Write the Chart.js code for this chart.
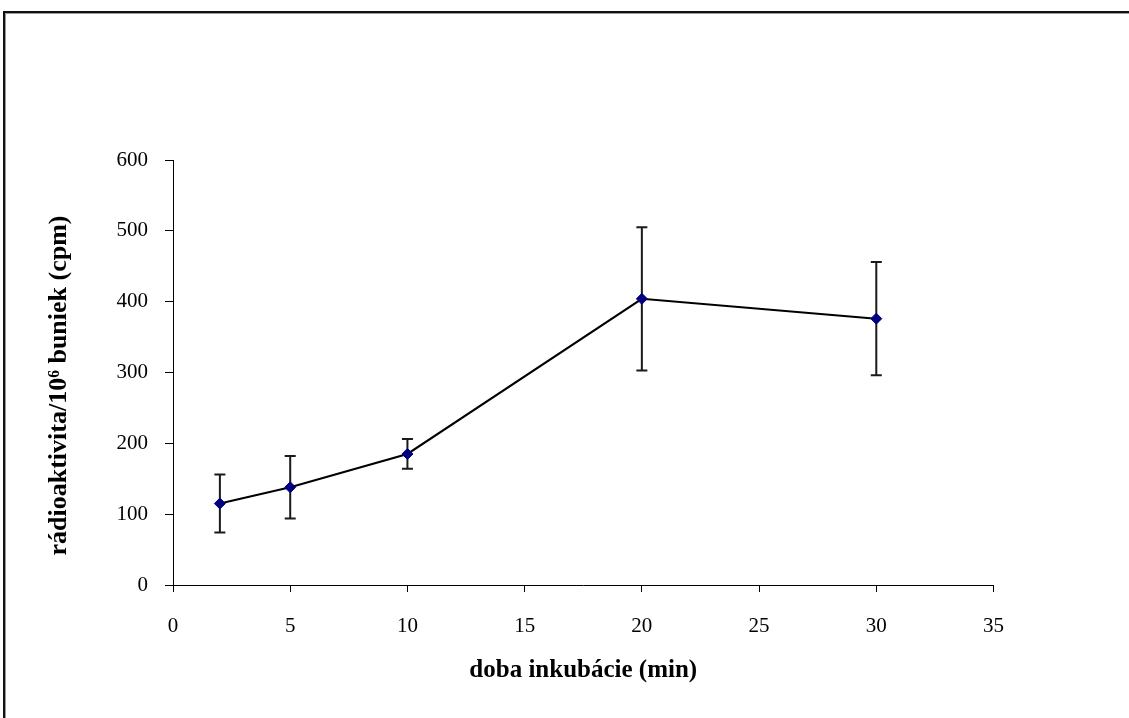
<!DOCTYPE html>
<html>
<head>
<meta charset="utf-8">
<script src="https://cdn.jsdelivr.net/npm/chart.js@4/dist/chart.umd.min.js"></script>
<style>
  html, body { margin: 0; padding: 0; background: #fff; overflow: hidden; }
  #frame { position: absolute; left: 3px; top: 11px; width: 2000px; height: 2000px;
           border-top: 2px solid #111; border-left: 2px solid #111;
           box-shadow: inset 1px 1px 0 #9a9a9a; }
  #wrap { position: absolute; left: 0; top: 0; width: 1129px; height: 718px; }
</style>
</head>
<body>
<div id="frame"></div>
<div id="wrap"><canvas id="c" width="1129" height="718"></canvas></div>
<script>
// Data
const times = [2, 5, 10, 20, 30];                 // doba inkubácie (min)
const activity = [115, 138, 185, 404, 376];       // rádioaktivita / 10^6 buniek (cpm)
const errors = [41, 44, 21, 101, 80];             // error bar half-widths
const xTicks = [0, 5, 10, 15, 20, 25, 30, 35];
const yTicks = [0, 100, 200, 300, 400, 500, 600];
const xTitle = 'doba inkubácie (min)';
const yTitle = 'rádioaktivita/10⁶ buniek (cpm)';

const points = times.map((t, i) => ({ x: t, y: activity[i] }));

const errorBars = {
  id: 'errorBars',
  beforeDatasetsDraw(chart) {
    const ctx = chart.ctx;
    const xs = chart.scales.x, ys = chart.scales.y;
    ctx.save();
    ctx.strokeStyle = '#1a1a1a';
    ctx.lineWidth = 2;
    times.forEach((t, i) => {
      const px = xs.getPixelForValue(t);
      const top = ys.getPixelForValue(activity[i] + errors[i]);
      const bot = ys.getPixelForValue(activity[i] - errors[i]);
      ctx.beginPath();
      ctx.moveTo(px, top); ctx.lineTo(px, bot);
      ctx.moveTo(px - 5.5, top); ctx.lineTo(px + 5.5, top);
      ctx.moveTo(px - 5.5, bot); ctx.lineTo(px + 5.5, bot);
      ctx.stroke();
    });
    ctx.restore();
  }
};

// shift the built-in y title slightly lower, as in the reference
function shiftYTitle(s) {
  if (s._titleShifted) return;
  const orig = s.drawTitle;
  s.drawTitle = function () {
    const t = this.top, b = this.bottom;
    this.top = t + 13; this.bottom = b + 13;
    orig.call(this);
    this.top = t; this.bottom = b;
  };
  s._titleShifted = true;
}

const serif = '"Liberation Serif", "Times New Roman", serif';
const tickFont = { family: serif, size: 21 };

new Chart(document.getElementById('c'), {
  type: 'scatter',
  data: {
    datasets: [{
      data: points,
      showLine: true,
      borderColor: '#000',
      borderWidth: 2,
      pointStyle: 'rectRot',
      pointRadius: 5.5,
      pointHoverRadius: 5.5,
      pointBackgroundColor: '#000080',
      pointBorderColor: '#000080',
      pointBorderWidth: 1
    }]
  },
  options: {
    responsive: false,
    animation: false,
    layout: { padding: { left: 0, top: 160, right: 135.5, bottom: 0 } },
    plugins: { legend: { display: false }, tooltip: { enabled: false } },
    scales: {
      x: {
        type: 'linear', min: 0, max: 35,
        afterBuildTicks: s => { s.ticks = xTicks.map(v => ({ value: v })); },
        afterFit: s => { s.height = 133; },
        grid: { display: true, drawOnChartArea: false, drawTicks: true, tickLength: 7, color: '#000' },
        border: { display: true, color: '#000', width: 1 },
        ticks: { color: '#000', font: tickFont, padding: 22, maxRotation: 0 },
        title: { display: true, text: xTitle, color: '#000',
                 font: { family: serif, size: 25, weight: 'bold' }, padding: { top: 0, bottom: 32 } }
      },
      y: {
        type: 'linear', min: 0, max: 600,
        afterBuildTicks: s => { s.ticks = yTicks.map(v => ({ value: v })); },
        afterFit: s => { s.width = 173; shiftYTitle(s); },
        grid: { display: true, drawOnChartArea: false, drawTicks: true, tickLength: 8, color: '#000' },
        border: { display: true, color: '#000', width: 1 },
        ticks: { color: '#000', font: tickFont, padding: 17 },
        title: { display: true, text: yTitle, color: '#000',
                 font: { family: serif, size: 26, weight: 'bold' }, padding: { top: 44, bottom: 0 } }
      }
    }
  },
  plugins: [errorBars]
});
</script>
</body>
</html>
